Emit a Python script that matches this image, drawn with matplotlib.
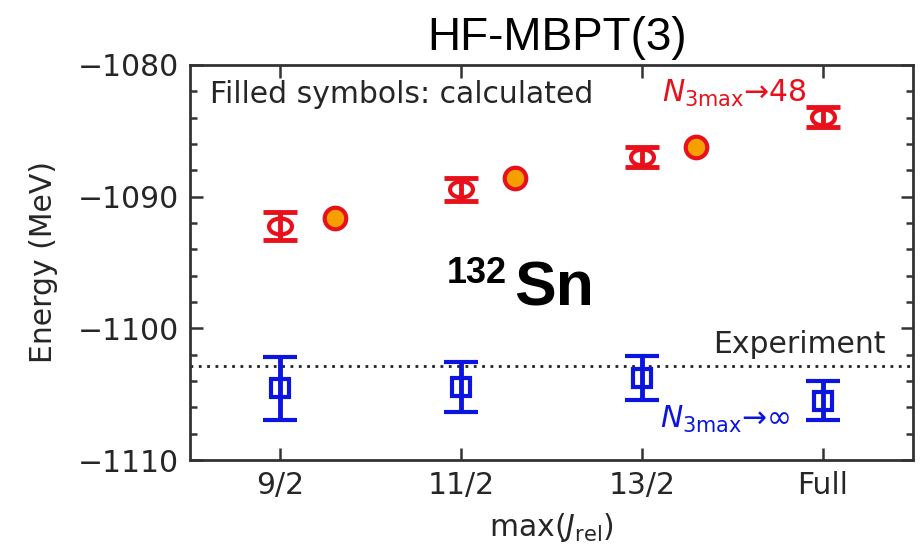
import matplotlib
matplotlib.use("Agg")
import matplotlib.pyplot as plt
from matplotlib.ticker import MultipleLocator
from matplotlib.path import Path
from matplotlib.transforms import Affine2D

# ---- data ----
categories = ["9/2", "11/2", "13/2", "Full"]
n48_values = [-1092.24, -1089.45, -1087.0, -1083.97]
n48_errors = [1.05, 0.85, 0.78, 0.76]
calc_values = [-1091.6, -1088.56, -1086.2]
ninf_values = [-1104.56, -1104.49, -1103.8, -1105.5]
ninf_errors = [2.37, 1.9, 1.68, 1.49]
experiment = -1102.85
calc_offset = 0.3

W, H = 923, 548
fig = plt.figure(figsize=(W / 100, H / 100), dpi=100)
ax = fig.add_axes([190 / W, 1 - 460 / H, (913 - 190) / W, (460 - 65) / H])

txt = "#262626"
red = "#e8101a"
blue = "#0c14e0"
fs = 21.5
x = list(range(len(categories)))

oval = Path.unit_circle().transformed(Affine2D().scale(1.0, 0.7))

ax.errorbar(x, n48_values, yerr=n48_errors, fmt="none", ecolor=red,
            elinewidth=3.5, capsize=12.5, capthick=3.5, zorder=3)
ax.plot(x, n48_values, ls="none", marker=oval, ms=16.5, mfc="none",
        mec=red, mew=3, zorder=4)
ax.plot([xi + calc_offset for xi in x[:len(calc_values)]], calc_values, "o",
        ms=15.5, mfc="#f5a000", mec=red, mew=3, zorder=3)
ax.errorbar(x, ninf_values, yerr=ninf_errors, fmt="s", ms=13.5, mfc="none",
            mec=blue, mew=3, ecolor=blue, elinewidth=3.5,
            capsize=12.5, capthick=3.5, zorder=3)
ax.axhline(experiment, color="#222222", ls=(0, (1, 2)), lw=2, zorder=2)

ax.set_xlim(-0.5, 3.5)
ax.set_ylim(-1110, -1080)
ax.set_xticks(x)
ax.set_xticklabels(categories)
ax.yaxis.set_major_locator(MultipleLocator(10))
ax.yaxis.set_minor_locator(MultipleLocator(2))
ax.tick_params(which="both", direction="in", top=True, right=True,
               colors="#333333", labelcolor=txt, labelsize=fs, width=1.8)
ax.tick_params(which="major", length=9, pad=8)
ax.tick_params(which="minor", length=5)
for s in ax.spines.values():
    s.set_linewidth(2)
    s.set_color("#333333")

ax.set_ylabel("Energy (MeV)", fontsize=fs, color=txt, labelpad=14)
ax.set_xlabel(r"max($J_{\rm rel}$)", fontsize=fs, color=txt, labelpad=8)

fig.text(557 / W, 1 - 50 / H, "HF-MBPT(3)", ha="center", va="baseline",
         fontsize=33, family="Liberation Sans", color="black")

fig.text(210 / W, 1 - 103 / H, "Filled symbols: calculated",
         fontsize=fs, color=txt, va="baseline", ha="left")
fig.text(662 / W, 1 - 102 / H, r"$N_{\rm 3max}$→48", fontsize=fs,
         color=red, va="baseline", ha="left")
fig.text(886 / W, 1 - 353 / H, "Experiment", fontsize=fs, color=txt,
         va="baseline", ha="right")
fig.text(660 / W, 1 - 428 / H, r"$N_{\rm 3max}$→∞", fontsize=fs,
         color=blue, va="baseline", ha="left")

fig.text(447 / W, 1 - 283 / H, "132", fontsize=26, fontweight="bold",
         family="Liberation Sans", color="black", va="baseline", ha="left")
fig.text(594 / W, 1 - 305 / H, "Sn", fontsize=45, fontweight="bold",
         family="Liberation Sans", color="black", va="baseline", ha="right")

fig.savefig("out.png", dpi=100)
